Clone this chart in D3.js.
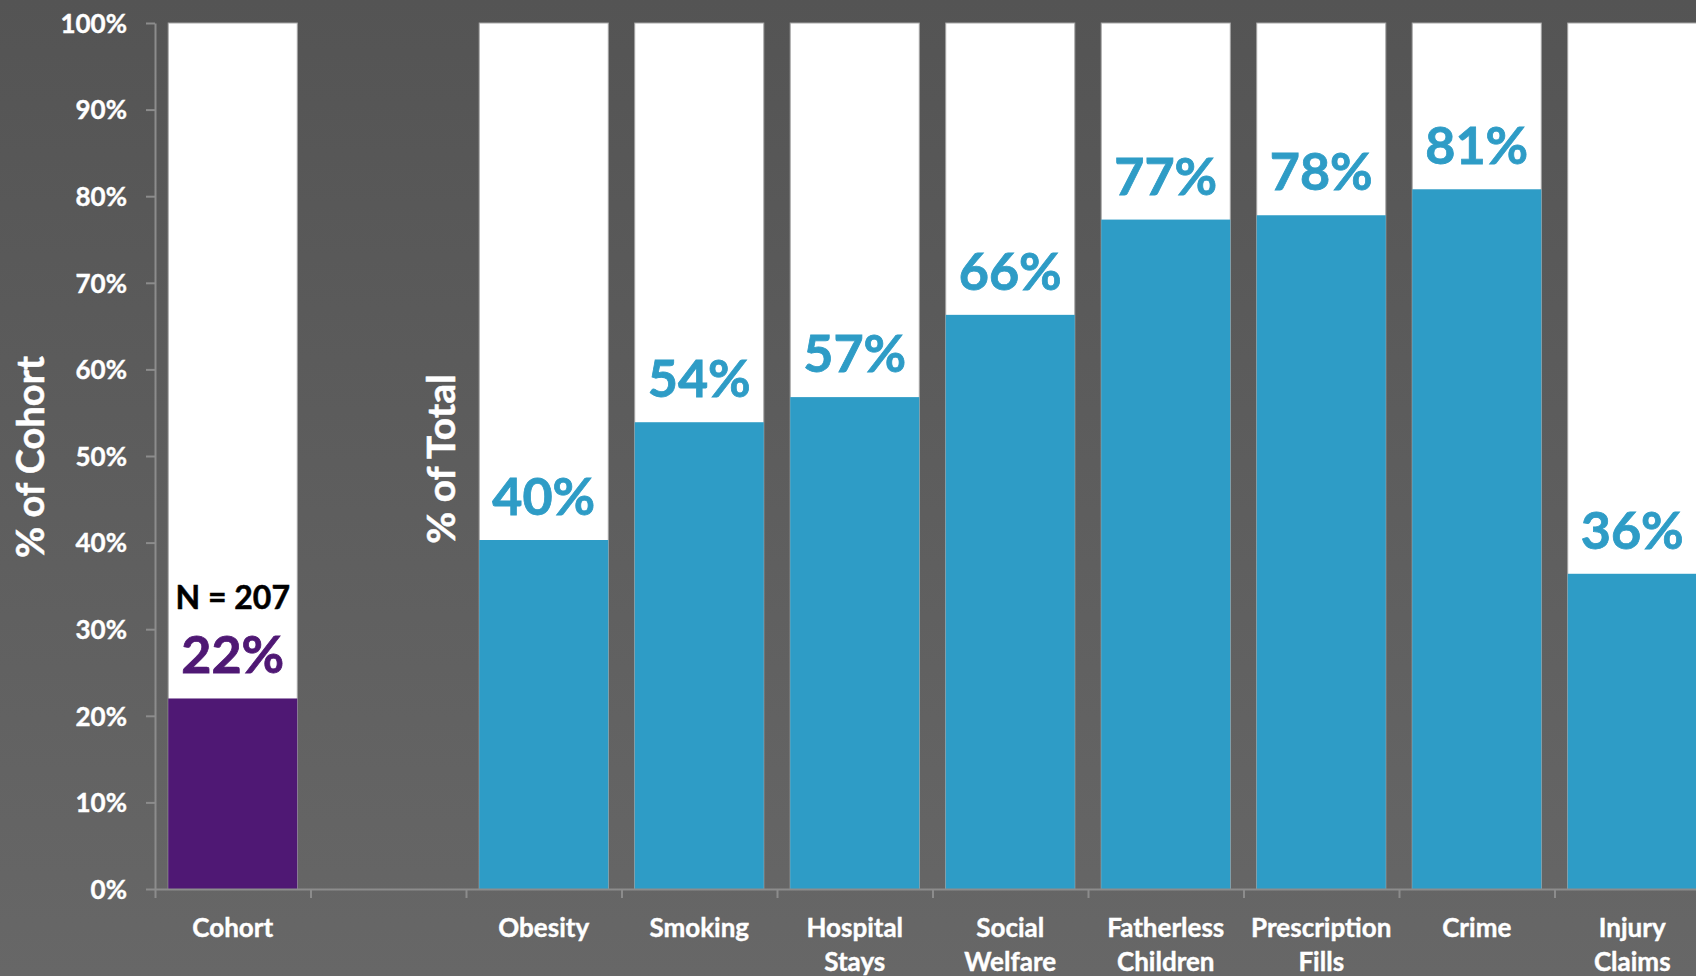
<!DOCTYPE html>
<html>
<head>
<meta charset="utf-8">
<script src="https://cdn.jsdelivr.net/npm/d3@7"></script>
<style>
  html, body { margin: 0; padding: 0; overflow: hidden; }
  svg { display: block; font-family: Lato, "Open Sans", sans-serif; font-weight: 700; }
</style>
</head>
<body>
<svg id="chart"></svg>
<script>
// categories (the empty one is the spacer slot between the two groups)
const categories = ['Cohort', '', 'Obesity', 'Smoking', 'Hospital Stays', 'Social Welfare',
    'Fatherless Children', 'Prescription Fills', 'Crime', 'Injury Claims'];
const values = [0.22, null, 0.403, 0.539, 0.568, 0.663, 0.773, 0.778, 0.808, 0.364];
const yTicks = [0, 0.1, 0.2, 0.3, 0.4, 0.5, 0.6, 0.7, 0.8, 0.9, 1.0];
const cohortNote = 'N = 207';

const width = 1696, height = 976;
const margin = { left: 155, top: 23, bottom: 87 };
const plotRight = 1710; // chart runs past the right edge

const svg = d3.select('#chart')
    .attr('width', width)
    .attr('height', height);

const defs = svg.append('defs');
const grad = defs.append('linearGradient')
    .attr('id', 'bg')
    .attr('x1', 0).attr('y1', 0).attr('x2', 0).attr('y2', 1);
grad.append('stop').attr('offset', '0%').attr('stop-color', '#545454');
grad.append('stop').attr('offset', '100%').attr('stop-color', '#676767');

svg.append('rect')
    .attr('width', width)
    .attr('height', height)
    .attr('fill', 'url(#bg)');

const data = categories.map((c, i) => ({ cat: c, value: values[i], idx: i }));

const x = d3.scaleBand()
    .domain(d3.range(categories.length))
    .range([margin.left, plotRight])
    .paddingInner(0.17)
    .paddingOuter(0.085);

// slot boundaries for the category ticks
const xSlot = d3.scaleLinear()
    .domain([0, categories.length])
    .range([margin.left, plotRight]);

const y = d3.scaleLinear()
    .domain([0, 1])
    .range([height - margin.bottom, margin.top]);

const bars = data.filter(d => d.value !== null);

// white 100% background bars
svg.selectAll('.bg-bar')
    .data(bars)
    .join('rect')
    .attr('class', 'bg-bar')
    .attr('x', d => x(d.idx))
    .attr('y', y(1))
    .attr('width', x.bandwidth())
    .attr('height', y(0) - y(1))
    .attr('fill', '#ffffff')
    .attr('stroke', '#a6a6a6')
    .attr('stroke-width', 1);

svg.selectAll('.val-bar')
    .data(bars)
    .join('rect')
    .attr('class', 'val-bar')
    .attr('x', d => x(d.idx))
    .attr('y', d => y(d.value))
    .attr('width', x.bandwidth())
    .attr('height', d => y(0) - y(d.value))
    .attr('fill', d => d.idx === 0 ? '#4f1874' : '#2e9cc6');

// value labels
svg.selectAll('.val-label')
    .data(bars)
    .join('text')
    .attr('class', 'val-label')
    .attr('x', d => x(d.idx) + x.bandwidth() / 2)
    .attr('y', d => y(d.value) - 25)
    .attr('text-anchor', 'middle')
    .attr('font-size', 52)
    .attr('fill', d => d.idx === 0 ? '#4f1874' : '#2e9cc6')
    .attr('stroke', d => d.idx === 0 ? '#4f1874' : '#2e9cc6')
    .attr('stroke-width', 0.8)
    .text(d => d3.format('.0%')(d.value));

svg.append('text')
    .attr('x', x(0) + x.bandwidth() / 2)
    .attr('y', y(values[0]) - 89)
    .attr('text-anchor', 'middle')
    .attr('font-size', 32)
    .attr('fill', '#000000')
    .attr('stroke', '#000000')
    .attr('stroke-width', 0.5)
    .text(cohortNote);

// y axis
const yAxis = svg.append('g')
    .attr('transform', `translate(${margin.left},0)`)
    .call(d3.axisLeft(y)
        .tickValues(yTicks)
        .tickFormat(d3.format('.0%'))
        .tickSize(9)
        .tickSizeOuter(0)
        .tickPadding(19));

yAxis.selectAll('path, line').attr('stroke', '#8c8c8c').attr('stroke-width', 2);
yAxis.selectAll('text')
    .attr('fill', '#ffffff')
    .attr('stroke', '#ffffff')
    .attr('stroke-width', 0.4)
    .attr('font-size', 26)
    .attr('font-family', 'Lato, sans-serif')
    .attr('font-weight', 700)
    .attr('dy', '0.36em');

// x axis (ticks on slot boundaries)
const xAxis = svg.append('g')
    .attr('transform', `translate(0,${y(0)})`)
    .call(d3.axisBottom(xSlot)
        .tickValues(d3.range(categories.length + 1))
        .tickFormat('')
        .tickSize(9)
        .tickSizeOuter(0));

xAxis.selectAll('path, line').attr('stroke', '#8c8c8c').attr('stroke-width', 2);

// category labels, two lines where needed
const xLabels = svg.selectAll('.x-label')
    .data(data.filter(d => d.cat !== ''))
    .join('text')
    .attr('class', 'x-label')
    .attr('text-anchor', 'middle')
    .attr('font-size', 26)
    .attr('fill', '#ffffff')
    .attr('stroke', '#ffffff')
    .attr('stroke-width', 0.4);

xLabels.selectAll('tspan')
    .data(d => d.cat.split(' ').map(w => ({ w, d })))
    .join('tspan')
    .attr('x', t => x(t.d.idx) + x.bandwidth() / 2)
    .attr('y', (t, i) => 937 + i * 34)
    .text(t => t.w);

// axis titles
svg.append('text')
    .attr('transform', 'translate(44,457) rotate(-90)')
    .attr('text-anchor', 'middle')
    .attr('font-size', 38)
    .attr('fill', '#ffffff')
    .attr('stroke', '#ffffff')
    .attr('stroke-width', 0.5)
    .text('% of Cohort');

svg.append('text')
    .attr('transform', 'translate(455,459) rotate(-90)')
    .attr('text-anchor', 'middle')
    .attr('font-size', 39)
    .attr('fill', '#ffffff')
    .attr('stroke', '#ffffff')
    .attr('stroke-width', 0.5)
    .text('% of Total');
</script>
</body>
</html>
